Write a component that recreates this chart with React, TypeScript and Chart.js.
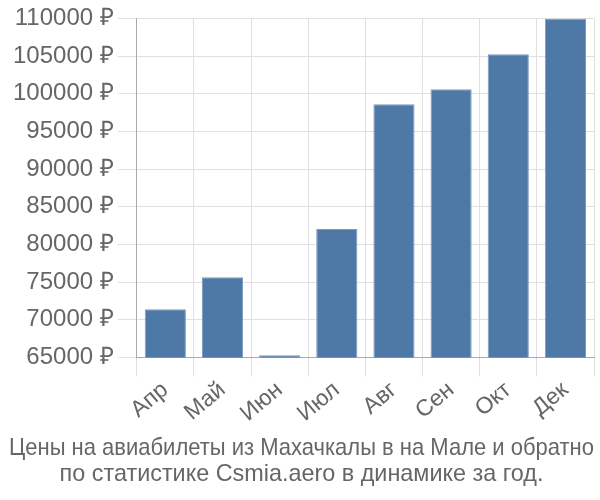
import React, { useEffect, useRef } from "react";
import { Chart, registerables } from "chart.js";

Chart.register(...registerables);

const categories = ["Апр", "Май", "Июн", "Июл", "Авг", "Сен", "Окт", "Дек"];
const prices = [71400, 75650, 65300, 82050, 98600, 100600, 105250, 110000];
const yTicksMin = 65000;
const yTicksMax = 110000;
const yStep = 5000;
const titleLines = [
  "Цены на авиабилеты из Махачкалы в на Мале и обратно",
  "по статистике Csmia.aero в динамике за год.",
];

const FONT = "Liberation Sans, Arial, sans-serif";

export default function App() {
  const ref = useRef<HTMLCanvasElement | null>(null);
  useEffect(() => {
    document.body.style.margin = "0";
    if (!ref.current) return;
    const chart = new Chart(ref.current, {
      type: "bar",
      data: {
        labels: categories,
        datasets: [
          {
            data: prices,
            backgroundColor: "#4e79a7",
            borderColor: "#7d9cc0",
            borderWidth: 1,
            categoryPercentage: 0.8,
            barPercentage: 0.9,
          },
        ],
      },
      options: {
        animation: false,
        responsive: false,
        maintainAspectRatio: false,
        layout: { padding: { top: 0, right: 6, left: 9, bottom: 0 } },
        plugins: {
          legend: { display: false },
          tooltip: { enabled: false },
          title: {
            display: true,
            position: "bottom",
            text: titleLines,
            color: "#666",
            font: { family: FONT, size: 23.4, weight: "normal", lineHeight: 1.12 },
            padding: { top: 8, bottom: 12 },
          },
        },
        scales: {
          x: {
            grid: { color: "#e0e0e0", tickLength: 19, lineWidth: 1 },
            border: { color: "#aaa" },
            ticks: {
              color: "#666",
              font: { family: FONT, size: 23 },
              maxRotation: 40,
              minRotation: 40,
              padding: 0,
            },
          },
          y: {
            min: yTicksMin,
            max: yTicksMax,
            grid: { color: "#e0e0e0", tickLength: 19, lineWidth: 1 },
            border: { color: "#aaa" },
            ticks: {
              stepSize: yStep,
              color: "#666",
              font: { family: FONT, size: 24 },
              padding: 4,
              callback: (v: any) => `${v} ₽`,
            },
          },
        },
      },
    });
    return () => chart.destroy();
  }, []);
  return (
    <div style={{ width: 600, height: 500 }}>
      <canvas ref={ref} width={600} height={500} />
    </div>
  );
}
